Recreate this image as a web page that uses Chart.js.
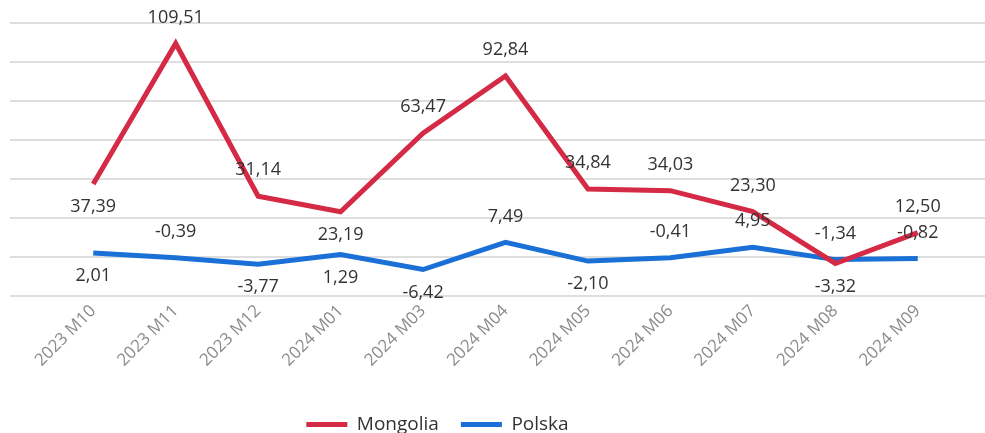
<!DOCTYPE html>
<html>
<head>
<meta charset="utf-8">
<script src="https://cdn.jsdelivr.net/npm/chart.js@4/dist/chart.umd.min.js"></script>
<style>
  html, body { margin: 0; padding: 0; background: #fff; }
  #wrap { width: 985px; height: 433px; }
</style>
</head>
<body>
<div id="wrap"><canvas id="myChart"></canvas></div>
<script>
// Datos
const categories = ["2023 M10", "2023 M11", "2023 M12", "2024 M01", "2024 M03", "2024 M04", "2024 M05", "2024 M06", "2024 M07", "2024 M08", "2024 M09"];
const mongolia = [37.39, 109.51, 31.14, 23.19, 63.47, 92.84, 34.84, 34.03, 23.30, -3.32, 12.50];
const polska = [2.01, -0.39, -3.77, 1.29, -6.42, 7.49, -2.10, -0.41, 4.95, -1.34, -0.82];
const yTicks = [-20, 0, 20, 40, 60, 80, 100, 120];

// posición de las etiquetas (arriba / abajo del punto)
const mongoliaAlign = ['below', 'above', 'above', 'below', 'above', 'above', 'above', 'above', 'above', 'below', 'above'];
const polskaAlign = ['below', 'above', 'below', 'below', 'below', 'above', 'below', 'above', 'above', 'above', 'above'];

const FONT = '"Open Sans", "Noto Sans", sans-serif';
Chart.defaults.font.family = FONT;

function fmt(v) {
    return v.toFixed(2).replace('.', ',');
}

// Líneas horizontales de fondo (más anchas que el área del gráfico)
const gridPlugin = {
    id: 'wideGrid',
    beforeDatasetsDraw(chart) {
        const ctx = chart.ctx;
        const y = chart.scales.y;
        ctx.save();
        ctx.strokeStyle = '#dedede';
        ctx.lineWidth = 2;
        yTicks.forEach(function (t) {
            const py = Math.round(y.getPixelForValue(t));
            ctx.beginPath();
            ctx.moveTo(10, py);
            ctx.lineTo(chart.width, py);
            ctx.stroke();
        });
        ctx.restore();
    }
};

// Etiquetas de valores
const labelPlugin = {
    id: 'valueLabels',
    afterDatasetsDraw(chart) {
        const ctx = chart.ctx;
        ctx.save();
        ctx.font = '18px ' + FONT;
        ctx.fillStyle = '#333333';
        ctx.textAlign = 'center';
        ctx.textBaseline = 'middle';
        chart.data.datasets.forEach(function (ds, i) {
            const meta = chart.getDatasetMeta(i);
            meta.data.forEach(function (pt, j) {
                let py = ds.align[j] === 'above' ? pt.y - 26 : pt.y + 23;
                if (py < 12) py = 12;
                ctx.fillText(fmt(ds.data[j]), pt.x, py);
            });
        });
        ctx.restore();
    }
};

// Leyenda un poco desplazada (a la izquierda y abajo)
const legendShift = {
    id: 'legendShift',
    afterLayout(chart) {
        const lg = chart.legend;
        lg.left -= 68;
        lg.right -= 68;
        lg.top += 17;
        lg.bottom += 17;
    }
};

const ctx = document.getElementById('myChart').getContext('2d');
const myChart = new Chart(ctx, {
    type: 'line',
    data: {
        labels: categories,
        datasets: [{
            label: 'Mongolia',
            data: mongolia,
            align: mongoliaAlign,
            borderColor: '#d52a45',
            backgroundColor: '#d52a45',
            borderWidth: 5,
            pointRadius: 0,
            tension: 0
        }, {
            label: 'Polska',
            data: polska,
            align: polskaAlign,
            borderColor: '#1a70d6',
            backgroundColor: '#1a70d6',
            borderWidth: 5,
            pointRadius: 0,
            tension: 0
        }]
    },
    options: {
        responsive: true,
        maintainAspectRatio: false,
        animation: false,
        layout: {
            padding: {
                left: 52,
                right: 26,
                top: 23,
                bottom: 6
            }
        },
        scales: {
            x: {
                offset: true,
                grid: { display: false },
                border: { display: false },
                ticks: {
                    color: '#8a8a8a',
                    font: { size: 17 },
                    maxRotation: 45,
                    minRotation: 45,
                    padding: -3
                },
                afterFit: function (scale) {
                    scale.height = 80;
                }
            },
            y: {
                min: -20,
                max: 120,
                display: false,
                ticks: { stepSize: 20 }
            }
        },
        plugins: {
            legend: {
                position: 'bottom',
                labels: {
                    boxWidth: 41,
                    boxHeight: 5,
                    padding: 22,
                    color: '#333333',
                    font: { size: 19 },
                    generateLabels: function (chart) {
                        const items = Chart.defaults.plugins.legend.labels.generateLabels(chart);
                        items.forEach(function (it) { it.lineWidth = 0; });
                        return items;
                    }
                }
            },
            tooltip: { enabled: false }
        }
    },
    plugins: [gridPlugin, labelPlugin, legendShift]
});
</script>
</body>
</html>
